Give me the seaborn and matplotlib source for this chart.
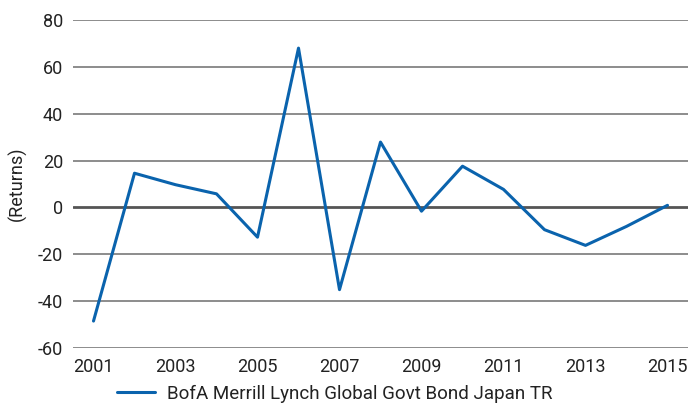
import numpy as np
import pandas as pd
import matplotlib
matplotlib.use("Agg")
import matplotlib.pyplot as plt
import seaborn as sns

years = list(range(2001, 2016))
returns = [-48.5, 14.6, 9.7, 5.8, -12.7, 68.0, -35.1, 27.9, -1.6, 17.6, 7.7, -9.5, -16.2, -8.1, 0.9]
series_name = "BofA Merrill Lynch Global Govt Bond Japan TR"
y_ticks = [-60, -40, -20, 0, 20, 40, 60, 80]
x_ticks = [2001, 2003, 2005, 2007, 2009, 2011, 2013, 2015]

df = pd.DataFrame({"Year": years, "Returns": returns, "Series": series_name})

sns.set_style("white")
plt.rcParams["font.family"] = ["Roboto", "DejaVu Sans"]
plt.rcParams["axes.unicode_minus"] = False

fig = plt.figure(figsize=(6.91, 4.05), dpi=100)
ax = fig.add_axes([73 / 691, 1 - 348 / 405, (688 - 73) / 691, (348 - 20) / 405])

for t in y_ticks:
    if t == 0:
        ax.axhline(t, color="#555555", lw=2.0, zorder=1)
    else:
        ax.axhline(t, color="#6e6e6e", lw=1.1, zorder=1)

sns.lineplot(data=df, x="Year", y="Returns", hue="Series", palette=["#0a63ad"],
             lw=2.2, ax=ax, zorder=3)

ax.set_ylim(-60, 80)
ax.set_xlim(2000.5, 2015.5)
ax.set_yticks(y_ticks)
ax.set_xticks(x_ticks)
ax.tick_params(axis="both", length=0, labelsize=13, colors="#222222")
ax.tick_params(axis="y", pad=7)
ax.tick_params(axis="x", pad=7)
ax.set_xlabel("")
ax.set_ylabel("(Returns)", fontsize=13, color="#222222", labelpad=8)
for s in ax.spines.values():
    s.set_visible(False)

leg = ax.legend(loc="upper center", bbox_to_anchor=(0.426, -0.112), frameon=False,
                fontsize=13.5, handlelength=2.0, handletextpad=0.65,
                borderaxespad=0, borderpad=0)
for txt in leg.get_texts():
    txt.set_color("#222222")

fig.savefig("out.png", dpi=100)
